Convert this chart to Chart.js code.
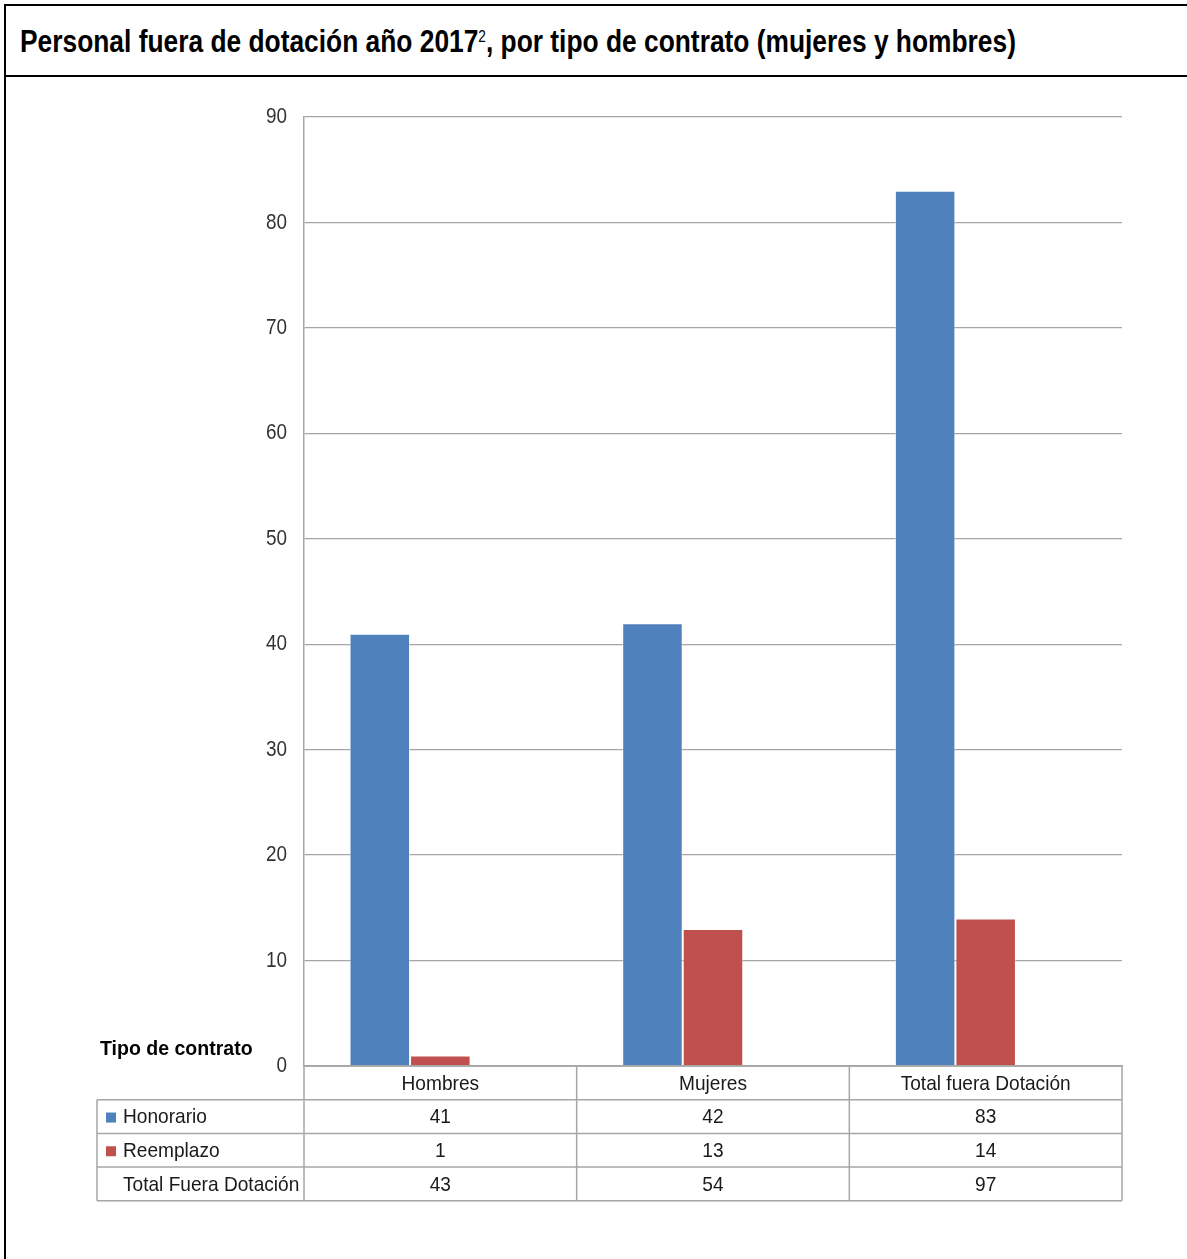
<!DOCTYPE html>
<html><head><meta charset="utf-8">
<script src="https://cdn.jsdelivr.net/npm/chart.js@4.4.1/dist/chart.umd.min.js"></script>
<style>
html,body{margin:0;padding:0;background:#fff;width:1187px;height:1259px;overflow:hidden;}
#frame{position:absolute;left:4px;top:4px;width:1183px;height:1255px;border-left:2px solid #000;border-top:2px solid #000;box-sizing:border-box;}
#titlebox{position:absolute;left:6px;top:6px;width:1181px;height:71px;border-bottom:2px solid #000;box-sizing:border-box;}
#title{position:absolute;left:14px;top:0;height:69px;line-height:72px;white-space:nowrap;transform-origin:0 50%;transform:scaleX(0.85);
 font-family:"Liberation Sans","Arial",sans-serif;font-weight:bold;font-size:31px;color:#000;}
#title sup{font-size:16px;font-weight:normal;vertical-align:baseline;position:relative;top:-10px;}
#wrap{position:absolute;left:0;top:0;width:1187px;height:1259px;}
</style></head>
<body>
<div id="frame"></div>
<div id="titlebox"><div id="title">Personal fuera de dotación año 2017<sup>2</sup>, por tipo de contrato (mujeres y hombres)</div></div>
<div id="wrap"><canvas id="c" width="1187" height="1259"></canvas></div>
<script>
const categories = ["Hombres", "Mujeres", "Total fuera Dotación"];
const honorario = [41, 42, 83];
const reemplazo = [1, 13, 14];
const totalFuera = [43, 54, 97];
const rowLabels = ["Honorario", "Reemplazo", "Total Fuera Dotación"];
const seriesColors = ["#4F81BD", "#C0504D"];
const yTicks = [0, 10, 20, 30, 40, 50, 60, 70, 80, 90];

const FONT = '"Liberation Sans",Arial,sans-serif';

function sText(ctx, t, x, y, sx, align) {
  ctx.save();
  ctx.translate(x, y);
  ctx.scale(sx, 1);
  ctx.textAlign = align;
  ctx.fillText(t, 0, 0);
  ctx.restore();
}

const tablePlugin = {
  id: 'tablePlugin',
  afterDraw(chart) {
    const ctx = chart.ctx;
    const xs = chart.scales.x;
    const ys = chart.scales.y;
    const ca = chart.chartArea;
    const L = xs.left, R = xs.right;
    const n = categories.length;
    const w = (R - L) / n;
    const top = ca.bottom;
    const rowH = 33.7;
    const rows = [top, top + rowH, top + 2*rowH, top + 3*rowH, top + 4*rowH];
    const leftX = 97;
    ctx.save();
    // y tick labels
    ctx.fillStyle = '#333';
    ctx.font = '22px ' + FONT;
    ctx.textBaseline = 'middle';
    yTicks.forEach(v => sText(ctx, String(v), 287, ys.getPixelForValue(v), 0.86, 'right'));
    ctx.strokeStyle = '#a6a6a6';
    ctx.lineWidth = 1.5;
    ctx.beginPath();
    ctx.moveTo(L, rows[0]); ctx.lineTo(R, rows[0]);
    for (let i = 1; i < rows.length; i++) { ctx.moveTo(leftX, rows[i]); ctx.lineTo(R, rows[i]); }
    for (let i = 0; i <= n; i++) { const x = L + i*w; ctx.moveTo(x, rows[0]); ctx.lineTo(x, rows[4]); }
    ctx.moveTo(leftX, rows[1]); ctx.lineTo(leftX, rows[4]);
    ctx.stroke();
    ctx.fillStyle = '#1a1a1a';
    ctx.font = '21px ' + FONT;
    ctx.textBaseline = 'middle';
    for (let i = 0; i < n; i++) sText(ctx, categories[i], L + (i+0.5)*w, (rows[0]+rows[1])/2 + 1, 0.91, 'center');
    const data = [honorario, reemplazo, totalFuera];
    for (let r = 0; r < 3; r++) {
      const cy = (rows[r+1] + rows[r+2]) / 2 + 1;
      for (let i = 0; i < n; i++) sText(ctx, String(data[r][i]), L + (i+0.5)*w, cy, 0.91, 'center');
      sText(ctx, rowLabels[r], 123, cy, 0.91, 'left');
      if (r < 2) { ctx.fillStyle = seriesColors[r]; ctx.fillRect(106, cy - 5, 10, 10); ctx.fillStyle = '#1a1a1a'; }
    }
    ctx.font = 'bold 21px ' + FONT;
    ctx.fillStyle = '#000';
    sText(ctx, 'Tipo de contrato', 100, 1049, 0.93, 'left');
    ctx.restore();
  }
};

new Chart(document.getElementById('c'), {
  type: 'bar',
  data: {
    labels: categories,
    datasets: [
      { label: 'Honorario', data: honorario, backgroundColor: seriesColors[0], borderColor: 'rgba(255,255,255,0.45)', borderWidth: 1 },
      { label: 'Reemplazo', data: reemplazo, backgroundColor: seriesColors[1], borderColor: 'rgba(255,255,255,0.45)', borderWidth: 1 },
      { label: 'Total Fuera Dotación', data: totalFuera, backgroundColor: 'rgba(0,0,0,0)', borderWidth: 0 }
    ]
  },
  options: {
    responsive: false,
    animation: false,
    devicePixelRatio: 1,
    layout: { padding: { left: 244, top: 117, right: 65, bottom: 193 } },
    plugins: { legend: { display: false }, title: { display: false }, tooltip: { enabled: false } },
    datasets: { bar: { categoryPercentage: 0.666, barPercentage: 1.0 } },
    scales: {
      x: {
        ticks: { display: false },
        grid: { display: false },
        border: { display: true, color: '#a6a6a6', width: 1.5 },
        afterFit(s) { s.height = 0; }
      },
      y: {
        min: 0, max: 90,
        afterBuildTicks(s) { s.ticks = yTicks.map(v => ({ value: v })); },
        ticks: { display: false },
        grid: { color: '#a6a6a6', lineWidth: 1.3, drawTicks: false },
        border: { display: true, color: '#a6a6a6', width: 1.5 },
        afterFit(s) { s.width = 60; }
      }
    }
  },
  plugins: [tablePlugin]
});
</script>
</body></html>
